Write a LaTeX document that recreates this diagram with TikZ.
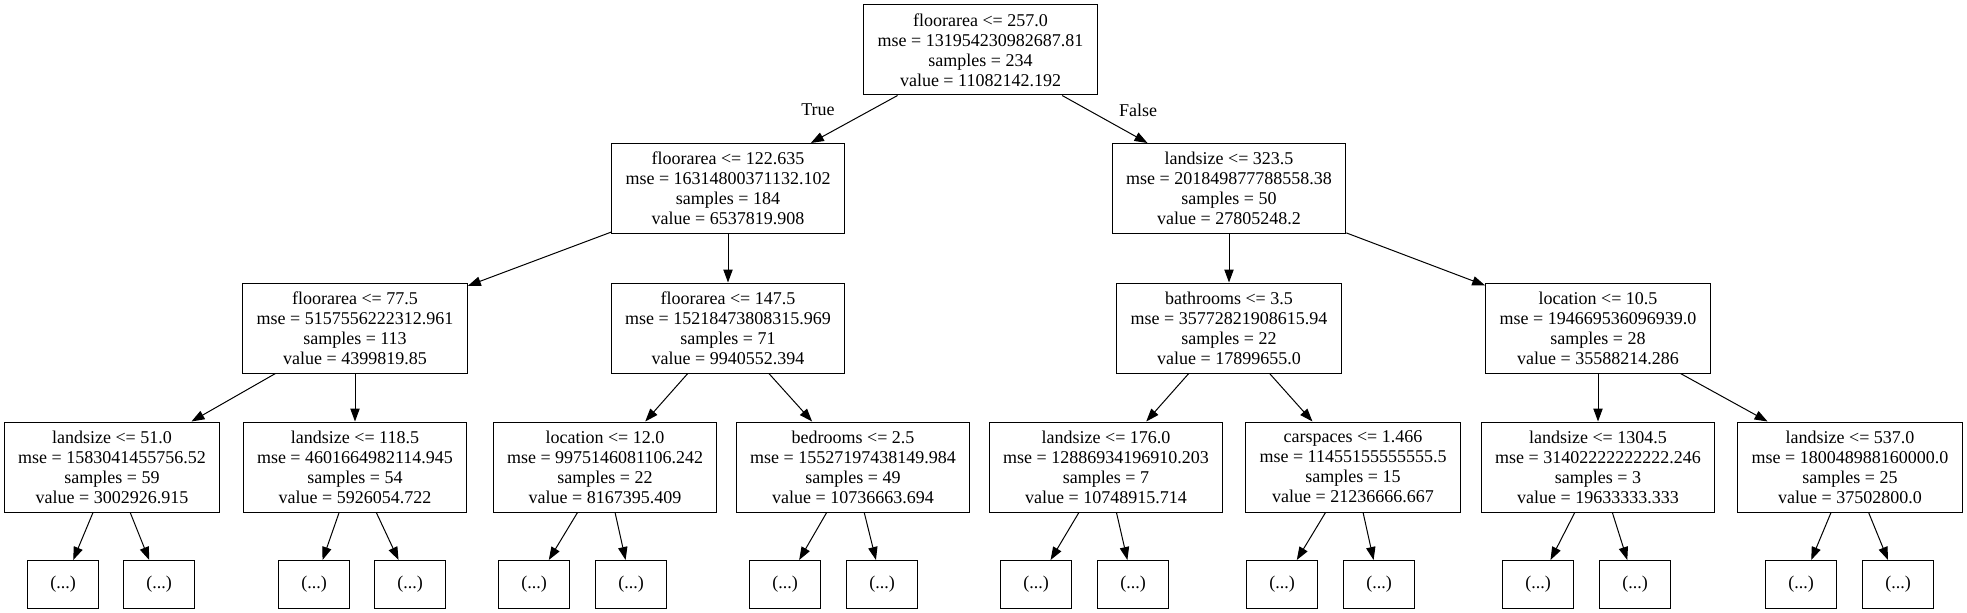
\documentclass[tikz,border=0pt]{standalone}
\usepackage{fontspec}
\setmainfont{Liberation Serif}
\usepackage{tikz}
\usetikzlibrary{arrows.meta,positioning}

\tikzset{
  split/.style={draw, line width=0.75pt, align=center, inner xsep=10.5pt, inner ysep=3pt,
    minimum height=67.5pt, font=\fontsize{13.5}{15}\selectfont},
  stub/.style={draw, line width=0.75pt, minimum width=53pt, minimum height=36pt,
    font=\fontsize{13.5}{15}\selectfont},
  edge/.style={line width=0.75pt, -{Triangle[length=9.75pt,width=7pt]}},
  tflabel/.style={font=\fontsize{13.5}{15}\selectfont}
}

\begin{document}
\begin{tikzpicture}[x=0.75pt, y=-0.75pt]
\useasboundingbox (0,0) rectangle (1967,613);
% root
\node[split] (root) at (980.5,50) {floorarea <= 257.0\\mse = 131954230982687.81\\samples = 234\\value = 11082142.192};
% level 1
\node[split] (fa1) at (728,188.5) {floorarea <= 122.635\\mse = 16314800371132.102\\samples = 184\\value = 6537819.908};
\node[split] (ls1) at (1229,188.5) {landsize <= 323.5\\mse = 201849877788558.38\\samples = 50\\value = 27805248.2};
% level 2
\node[split] (fa2) at (355,328) {floorarea <= 77.5\\mse = 5157556222312.961\\samples = 113\\value = 4399819.85};
\node[split] (fa3) at (728,328) {floorarea <= 147.5\\mse = 15218473808315.969\\samples = 71\\value = 9940552.394};
\node[split] (ba1) at (1229,328) {bathrooms <= 3.5\\mse = 35772821908615.94\\samples = 22\\value = 17899655.0};
\node[split] (lo1) at (1598,328) {location <= 10.5\\mse = 194669536096939.0\\samples = 28\\value = 35588214.286};
% level 3
\node[split] (ls2) at (112,467) {landsize <= 51.0\\mse = 1583041455756.52\\samples = 59\\value = 3002926.915};
\node[split] (ls3) at (355,467) {landsize <= 118.5\\mse = 4601664982114.945\\samples = 54\\value = 5926054.722};
\node[split] (lo2) at (605,467) {location <= 12.0\\mse = 9975146081106.242\\samples = 22\\value = 8167395.409};
\node[split] (be1) at (853,467) {bedrooms <= 2.5\\mse = 15527197438149.984\\samples = 49\\value = 10736663.694};
\node[split] (ls4) at (1106,467) {landsize <= 176.0\\mse = 12886934196910.203\\samples = 7\\value = 10748915.714};
\node[split] (ca1) at (1353,467) {carspaces <= 1.466\\mse = 11455155555555.5\\samples = 15\\value = 21236666.667};
\node[split] (ls5) at (1598,467) {landsize <= 1304.5\\mse = 31402222222222.246\\samples = 3\\value = 19633333.333};
\node[split] (ls6) at (1850,467) {landsize <= 537.0\\mse = 180048988160000.0\\samples = 25\\value = 37502800.0};
% truncated children
\node[stub] (s1) at (63,584.5) {(...)};
\node[stub] (s2) at (159,584.5) {(...)};
\node[stub] (s3) at (314,584.5) {(...)};
\node[stub] (s4) at (410,584.5) {(...)};
\node[stub] (s5) at (534,584.5) {(...)};
\node[stub] (s6) at (631,584.5) {(...)};
\node[stub] (s7) at (785,584.5) {(...)};
\node[stub] (s8) at (882,584.5) {(...)};
\node[stub] (s9) at (1036,584.5) {(...)};
\node[stub] (s10) at (1133,584.5) {(...)};
\node[stub] (s11) at (1282,584.5) {(...)};
\node[stub] (s12) at (1379,584.5) {(...)};
\node[stub] (s13) at (1538,584.5) {(...)};
\node[stub] (s14) at (1635,584.5) {(...)};
\node[stub] (s15) at (1801,584.5) {(...)};
\node[stub] (s16) at (1898,584.5) {(...)};
% edges
\draw[edge] (root) -- (fa1);
\draw[edge] (root) -- (ls1);
\node[tflabel] (lbltrue) at (818,110) {True};
\node[tflabel] (lblfalse) at (1138,110) {False};
\draw[edge] (fa1) -- (fa2);
\draw[edge] (fa1) -- (fa3);
\draw[edge] (ls1) -- (ba1);
\draw[edge] (ls1) -- (lo1);
\draw[edge] (fa2) -- (ls2);
\draw[edge] (fa2) -- (ls3);
\draw[edge] (fa3) -- (lo2);
\draw[edge] (fa3) -- (be1);
\draw[edge] (ba1) -- (ls4);
\draw[edge] (ba1) -- (ca1);
\draw[edge] (lo1) -- (ls5);
\draw[edge] (lo1) -- (ls6);
\foreach \p/\a/\b in {ls2/s1/s2, ls3/s3/s4, lo2/s5/s6, be1/s7/s8, ls4/s9/s10, ca1/s11/s12, ls5/s13/s14, ls6/s15/s16}{
  \draw[edge] (\p) -- (\a);
  \draw[edge] (\p) -- (\b);
}
\end{tikzpicture}
\end{document}
